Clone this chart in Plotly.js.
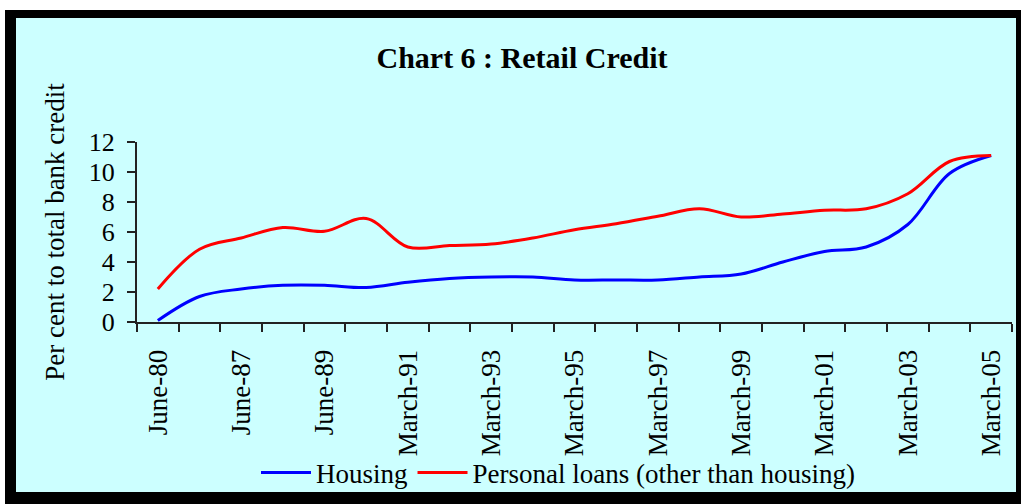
<!DOCTYPE html>
<html>
<head>
<meta charset="utf-8">
<script src="https://cdn.plot.ly/plotly-3.0.1.min.js"></script>
<style>
  html, body { margin: 0; padding: 0; background: #ffffff; width: 1024px; height: 504px; overflow: hidden; }
  #frame { position: absolute; left: 5px; top: 10px; width: 1000px; height: 474px;
           border-left: 11px solid #000; border-top: 8px solid #000; border-right: 5px solid #000; border-bottom: 12px solid #000;
           background: #ccffff; }
  #chart { width: 1000px; height: 474px; }
</style>
</head>
<body>
<div id="frame"><div id="chart"></div></div>
<script>
// Tick labels shown on every second category
const tickLabels = ['June-80','June-87','June-89','March-91','March-93','March-95',
                    'March-97','March-99','March-01','March-03','March-05'];
// Per cent to total bank credit
const housing  = [0.1, 1.7, 2.2, 2.45, 2.45, 2.3, 2.65, 2.9, 3.0, 3.0, 2.8,
                  2.8, 2.8, 3.0, 3.2, 4.0, 4.7, 5.0, 6.5, 9.9, 11.1];
const personal = [2.2, 4.85, 5.6, 6.3, 6.05, 6.9, 5.0, 5.1, 5.2, 5.6, 6.15,
                  6.55, 7.05, 7.55, 7.0, 7.2, 7.45, 7.55, 8.55, 10.7, 11.1];

const xIdx = housing.map((_, i) => i);
const tickVals = tickLabels.map((_, i) => i * 2);
const serif = 'Liberation Serif, Times New Roman, serif';

const traces = [
  { x: xIdx, y: housing, type: 'scatter', mode: 'lines', name: 'Housing',
    line: { color: '#0000ff', width: 3, shape: 'spline', smoothing: 1 } },
  { x: xIdx, y: personal, type: 'scatter', mode: 'lines', name: 'Personal loans (other than housing)',
    line: { color: '#ff0000', width: 3, shape: 'spline', smoothing: 1 } }
];

const layout = {
  width: 1000, height: 474,
  paper_bgcolor: '#ccffff', plot_bgcolor: '#ccffff',
  margin: { l: 121, r: 4, t: 124, b: 170 },
  font: { family: serif, color: '#000', size: 27 },
  title: { text: 'Chart 6 : Retail Credit', font: { family: serif, size: 30, weight: 'bold', color: '#000' },
           xref: 'container', yref: 'container', x: 0.506, xanchor: 'center', y: 0.916, yanchor: 'middle' },
  xaxis: {
    range: [-0.5, xIdx.length - 0.5], showgrid: false, zeroline: false,
    showline: true, linecolor: '#222', linewidth: 2,
    tickmode: 'array', tickvals: tickVals, ticktext: tickLabels, ticks: '',
    tickangle: -90, ticklabelstandoff: 15,
    tickfont: { family: serif, size: 27, color: '#000' },
    minor: { ticks: 'outside', tick0: -0.5, dtick: 1, ticklen: 8, tickwidth: 2, tickcolor: '#222', showgrid: false }
  },
  yaxis: {
    range: [0, 12], dtick: 2, showgrid: false, zeroline: false,
    showline: true, linecolor: '#222', linewidth: 2,
    ticks: 'outside', ticklen: 8, tickwidth: 2, tickcolor: '#222', ticklabelstandoff: 7,
    tickfont: { family: serif, size: 26, color: '#000' },
    title: { text: 'Per cent to total bank credit', font: { family: serif, size: 27, color: '#000' }, standoff: 16 }
  },
  showlegend: true,
  legend: { orientation: 'h', xref: 'container', yref: 'container', x: 0.24, xanchor: 'left',
            y: 0.04, yanchor: 'middle', bgcolor: 'rgba(0,0,0,0)', itemwidth: 50, tracegroupgap: 0,
            font: { family: serif, size: 27, color: '#000' } }
};

Plotly.newPlot('chart', traces, layout, { displayModeBar: false, staticPlot: true });
</script>
</body>
</html>
